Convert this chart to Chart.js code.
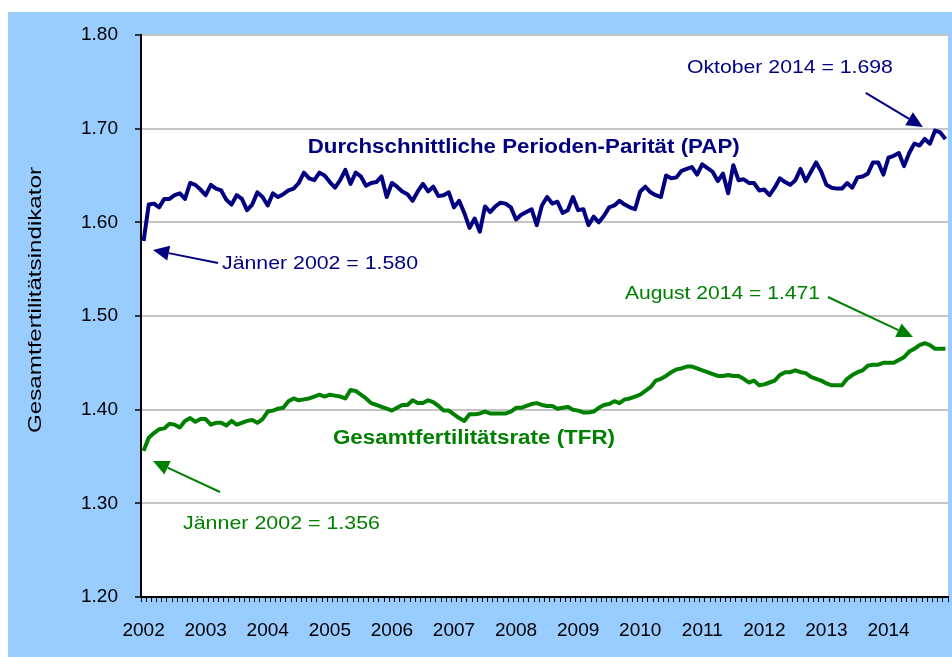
<!DOCTYPE html>
<html><head><meta charset="utf-8">
<script src="https://cdn.jsdelivr.net/npm/chart.js@4/dist/chart.umd.min.js"></script>
<style>html,body{margin:0;padding:0;background:#fff;overflow:hidden}</style>
</head><body>
<canvas id="c" width="952" height="657" style="display:block;width:952px;height:657px"></canvas>
<script>
// ---- data ----
const years = [2002,2003,2004,2005,2006,2007,2008,2009,2010,2011,2012,2013,2014];
const monthNames = ['Jän','Feb','Mär','Apr','Mai','Jun','Jul','Aug','Sep','Okt','Nov','Dez'];
const categories = years.flatMap(y => monthNames.map(m => m + ' ' + y));
const yTickValues = [1.20,1.30,1.40,1.50,1.60,1.70,1.80];

const papValues = [
1.580,1.619,1.620,1.616,1.625,1.625,1.629,1.631,1.625,1.642,1.640,1.635,
1.629,1.640,1.636,1.634,1.624,1.619,1.629,1.625,1.613,1.619,1.632,1.627,
1.618,1.631,1.627,1.630,1.634,1.636,1.642,1.653,1.647,1.645,1.653,1.650,
1.643,1.637,1.645,1.656,1.641,1.653,1.649,1.639,1.642,1.643,1.649,1.627,
1.642,1.638,1.633,1.630,1.623,1.633,1.641,1.633,1.638,1.628,1.629,1.632,
1.616,1.623,1.610,1.594,1.604,1.590,1.617,1.611,1.617,1.621,1.620,1.616,
1.603,1.608,1.611,1.614,1.597,1.618,1.627,1.620,1.622,1.610,1.613,1.627,
1.613,1.614,1.597,1.606,1.600,1.607,1.616,1.618,1.623,1.619,1.616,1.614,
1.633,1.638,1.632,1.629,1.627,1.650,1.647,1.648,1.655,1.657,1.659,1.651,
1.662,1.658,1.654,1.644,1.652,1.631,1.661,1.645,1.646,1.642,1.642,1.634,
1.635,1.629,1.637,1.647,1.643,1.640,1.645,1.657,1.644,1.654,1.664,1.654,
1.640,1.637,1.636,1.636,1.642,1.637,1.648,1.649,1.652,1.664,1.664,1.651,
1.669,1.671,1.674,1.660,1.674,1.684,1.682,1.689,1.684,1.698,1.696,1.689];

const tfrValues = [
1.356,1.370,1.375,1.379,1.380,1.385,1.384,1.381,1.388,1.391,1.387,1.390,
1.390,1.384,1.386,1.386,1.383,1.388,1.384,1.386,1.388,1.389,1.386,1.390,
1.398,1.399,1.401,1.402,1.409,1.412,1.410,1.411,1.412,1.414,1.416,1.414,
1.416,1.415,1.414,1.412,1.421,1.420,1.416,1.412,1.407,1.405,1.403,1.401,
1.399,1.402,1.405,1.405,1.410,1.407,1.407,1.410,1.408,1.404,1.399,1.399,
1.395,1.391,1.388,1.395,1.395,1.396,1.398,1.396,1.396,1.396,1.396,1.398,
1.402,1.402,1.404,1.406,1.407,1.405,1.404,1.404,1.401,1.402,1.403,1.400,
1.399,1.397,1.397,1.398,1.402,1.405,1.406,1.409,1.407,1.411,1.412,1.414,
1.416,1.420,1.424,1.431,1.433,1.436,1.440,1.443,1.444,1.446,1.446,1.444,
1.442,1.440,1.438,1.436,1.436,1.437,1.436,1.436,1.433,1.429,1.431,1.426,
1.427,1.429,1.431,1.437,1.440,1.440,1.442,1.440,1.439,1.435,1.433,1.431,
1.428,1.426,1.426,1.426,1.433,1.437,1.440,1.442,1.447,1.448,1.448,1.450,
1.450,1.450,1.453,1.456,1.462,1.465,1.469,1.471,1.469,1.465,1.465,1.465];

const seriesNames = ['Durchschnittliche Perioden-Parität (PAP)', 'Gesamtfertilitätsrate (TFR)'];
const yAxisTitle = 'Gesamtfertilitätsindikator';

// ---- annotations (text in data units: category index, value) ----
const NAVY = '#000080', GREEN = '#008000';
const notes = [
  {text: seriesNames[0], x: 31.72, y: 1.6743, w: 432, bold: true, color: NAVY},
  {text: 'Jänner 2002 = 1.580', x: 15.16, y: 1.5502, w: 196, bold: false, color: NAVY},
  {text: 'Oktober 2014 = 1.698', x: 105.03, y: 1.7594, w: 206, bold: false, color: NAVY},
  {text: seriesNames[1], x: 36.61, y: 1.3634, w: 282, bold: true, color: GREEN},
  {text: 'Jänner 2002 = 1.356', x: 7.62, y: 1.2726, w: 197, bold: false, color: GREEN},
  {text: 'August 2014 = 1.471', x: 93.04, y: 1.5182, w: 195, bold: false, color: GREEN}
];
const arrows = [
  {from: [14.38, 1.5566], to: [1.82, 1.5705], color: NAVY},
  {from: [139.6, 1.7381], to: [150.64, 1.7018], color: NAVY},
  {from: [14.77, 1.3121], to: [1.82, 1.3452], color: GREEN},
  {from: [132.28, 1.5203], to: [148.71, 1.4776], color: GREEN}
];

const FONT = "'Liberation Sans', Arial, sans-serif";

const bgPlugin = {
  id: 'bg',
  beforeDraw(chart) {
    const c = chart.ctx, a = chart.chartArea;
    c.save();
    c.fillStyle = '#ffffff';
    c.fillRect(0, 0, chart.width, chart.height);
    c.fillStyle = '#99CCFF';
    c.fillRect(8, 12, chart.width - 8, chart.height - 12);
    c.fillStyle = '#ffffff';
    c.fillRect(a.left, a.top, a.right - a.left, a.bottom - a.top);
    c.restore();
  }
};

function fitText(c, text, x, y, w) {
  const w0 = c.measureText(text).width;
  c.save();
  c.translate(x, y);
  c.scale(w / w0, 1);
  c.fillText(text, 0, 0);
  c.restore();
}

const notesPlugin = {
  id: 'notes',
  afterDraw(chart) {
    const c = chart.ctx, xs = chart.scales.x, ys = chart.scales.y;
    c.save();
    c.textBaseline = 'alphabetic';
    c.textAlign = 'left';
    for (const n of notes) {
      c.font = (n.bold ? 'bold 20px ' : '19px ') + FONT;
      c.fillStyle = n.color;
      fitText(c, n.text, xs.getPixelForValue(n.x), ys.getPixelForValue(n.y), n.w);
    }
    for (const a of arrows) {
      const x1 = xs.getPixelForValue(a.from[0]), y1 = ys.getPixelForValue(a.from[1]);
      const x2 = xs.getPixelForValue(a.to[0]), y2 = ys.getPixelForValue(a.to[1]);
      const ang = Math.atan2(y2 - y1, x2 - x1);
      const L = 16, H = 7.5;
      const bx = x2 - L * Math.cos(ang), by = y2 - L * Math.sin(ang);
      c.strokeStyle = a.color; c.fillStyle = a.color; c.lineWidth = 2;
      c.beginPath(); c.moveTo(x1, y1); c.lineTo(bx, by); c.stroke();
      c.beginPath();
      c.moveTo(x2, y2);
      c.lineTo(bx + H * Math.sin(ang), by - H * Math.cos(ang));
      c.lineTo(bx - H * Math.sin(ang), by + H * Math.cos(ang));
      c.closePath(); c.fill();
    }
    // y-axis title
    c.font = '19px ' + FONT;
    c.fillStyle = '#000';
    c.translate(36, 300);
    c.rotate(-Math.PI / 2);
    c.textAlign = 'left';
    c.textBaseline = 'middle';
    const tw = c.measureText(yAxisTitle).width;
    c.scale(266 / tw, 1);
    c.fillText(yAxisTitle, -tw / 2, 0);
    c.restore();
  }
};

new Chart(document.getElementById('c').getContext('2d'), {
  type: 'line',
  data: {
    labels: categories,
    datasets: [
      {label: seriesNames[0], data: papValues, borderColor: NAVY, backgroundColor: NAVY, borderWidth: 4, pointRadius: 0, tension: 0, fill: false, borderJoinStyle: 'round'},
      {label: seriesNames[1], data: tfrValues, borderColor: GREEN, backgroundColor: GREEN, borderWidth: 4, pointRadius: 0, tension: 0, fill: false, borderJoinStyle: 'round'}
    ]
  },
  options: {
    responsive: false, animation: false, devicePixelRatio: 1,
    layout: {padding: {top: 35, right: 4, left: 0, bottom: 0}},
    plugins: {legend: {display: false}, tooltip: {enabled: false}, title: {display: false}},
    scales: {
      x: {
        type: 'category', offset: true,
        grid: {display: true, drawOnChartArea: false, offset: true, tickLength: 5, tickColor: '#000', tickWidth: 1},
        border: {display: true, color: '#000', width: 2},
        ticks: {autoSkip: false, maxRotation: 0, minRotation: 0, padding: 17, color: '#000',
          font: {family: FONT, size: 19},
          callback: (v, i) => (i % 12 === 0 ? String(years[i / 12]) : '')},
        afterFit(s) { s.height = 60; s.paddingLeft = 0; s.paddingRight = 0; }
      },
      y: {
        min: 1.2, max: 1.8,
        afterBuildTicks(s) { s.ticks = yTickValues.map(v => ({value: v})); },
        ticks: {padding: 17, color: '#000', font: {family: FONT, size: 19}, callback: v => Number(v).toFixed(2)},
        grid: {color: '#c4c4c4', lineWidth: 2, tickLength: 6, tickColor: '#000', tickWidth: 1.5},
        border: {color: '#000', width: 2},
        afterFit(s) { s.width = 141; }
      }
    }
  },
  plugins: [bgPlugin, notesPlugin]
});
</script>
</body></html>
